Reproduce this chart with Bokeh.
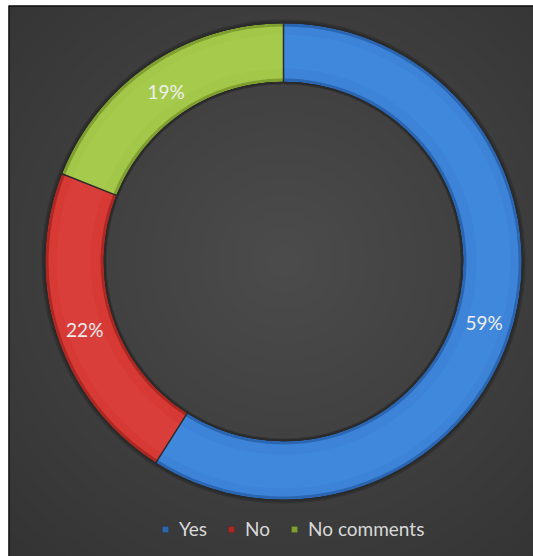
import numpy as np
from bokeh.plotting import figure
from bokeh.models import Range1d, Span, Legend, LegendItem, ColumnDataSource
from bokeh.core.properties import value
from bokeh.embed import file_html
from bokeh.resources import INLINE

# ---- data ----
categories = ["Yes", "No", "No comments"]
shares = [59, 22, 19]
labels = ["59%", "22%", "19%"]
colors = ["#3d84d8", "#d73a35", "#a3c748"]
edge_colors = ["#2a66b2", "#ad2823", "#7f9f30"]
light_colors = ["#4a92e6", "#e24a44", "#b0d356"]

# ---- geometry (screen-like units, 1 unit = 1 px) ----
FW, FH = 525, 551
cx, cy = 275, 295
r_out, r_in = 239, 179

vals = np.array(shares, dtype=float)
frac = vals / vals.sum()
cum_end = np.cumsum(frac)
cum_start = cum_end - frac
start_ang = np.pi / 2 - cum_end * 2 * np.pi
end_ang = np.pi / 2 - cum_start * 2 * np.pi
mid = np.pi / 2 - (cum_start + frac / 2) * 2 * np.pi
r_lab = (r_out + r_in) / 2

src = ColumnDataSource(dict(
    cat=categories, start=start_ang, end=end_ang, color=colors,
    edge=edge_colors, light=light_colors, lab=labels,
    lx=cx + r_lab * np.cos(mid), ly=cy + r_lab * np.sin(mid) - 3,
    x=[cx] * 3, y=[cy] * 3,
))

p = figure(width=533, height=556, output_backend="svg", toolbar_location=None,
           x_range=Range1d(0, FW), y_range=Range1d(0, FH),
           min_border_left=8, min_border_top=5, min_border_right=0, min_border_bottom=0)
p.axis.visible = False
p.grid.visible = False
p.outline_line_color = None
p.border_fill_color = "white"
p.background_fill_color = "#414141"

# radial background shading
yy, xx = np.mgrid[0:FH, 0:FW]
d = np.sqrt((xx - cx) ** 2 + (yy - cy) ** 2)
t = np.clip(d / 400.0, 0, 1)
c0 = np.array([0x4c, 0x4c, 0x4c]); c1 = np.array([0x34, 0x34, 0x34])
img = np.empty((FH, FW), dtype=np.uint32)
view = img.view(dtype=np.uint8).reshape((FH, FW, 4))
for k in range(3):
    view[:, :, k] = (c0[k] + (c1[k] - c0[k]) * t).astype(np.uint8)
view[:, :, 3] = 255
p.image_rgba(image=[img], x=0, y=0, dw=FW, dh=FH)

# frame lines (left, top)
p.add_layout(Span(location=0, dimension="height", line_color="black", line_width=2))
p.add_layout(Span(location=FH, dimension="width", line_color="black", line_width=2))

# shadow
p.annular_wedge(x="x", y="y", inner_radius=r_in - 2, outer_radius=r_out + 3,
                start_angle="start", end_angle="end", source=src,
                fill_color="#222222", fill_alpha=0.4, line_color=None)
# ring with bevel look
main = p.annular_wedge(x="x", y="y", inner_radius=r_in, outer_radius=r_out,
                       start_angle="start", end_angle="end", source=src,
                       fill_color="edge", line_color="#2a2a2a", line_width=1, line_alpha=0.4)
p.annular_wedge(x="x", y="y", inner_radius=r_in + 4, outer_radius=r_out - 4,
                start_angle="start", end_angle="end", source=src,
                fill_color="color", line_color=None)
p.annular_wedge(x="x", y="y", inner_radius=r_in + 14, outer_radius=r_out - 12,
                start_angle="start", end_angle="end", source=src,
                fill_color="light", fill_alpha=0.3, line_color=None)
# separators
p.annular_wedge(x="x", y="y", inner_radius=r_in, outer_radius=r_out,
                start_angle="start", end_angle="start", source=src,
                fill_color=None, line_color="#2b2b2b", line_width=1.5)

p.text(x="lx", y="ly", text="lab", source=src, text_align="center",
       text_baseline="middle", text_color="#eeeeee", text_font_size="19px",
       text_font=value("Lato"))

legend = Legend(items=[LegendItem(label=c, renderers=[main], index=i)
                       for i, c in enumerate(categories)],
                orientation="horizontal", location=(153, 16),
                background_fill_alpha=0, border_line_color=None,
                label_text_color="#d8d8d8", label_text_font_size="19px",
                label_text_font="Lato", glyph_width=8, glyph_height=8,
                label_standoff=10, spacing=20, padding=0, margin=0)
p.add_layout(legend)

open("out.html", "w").write(file_html(p, INLINE))
